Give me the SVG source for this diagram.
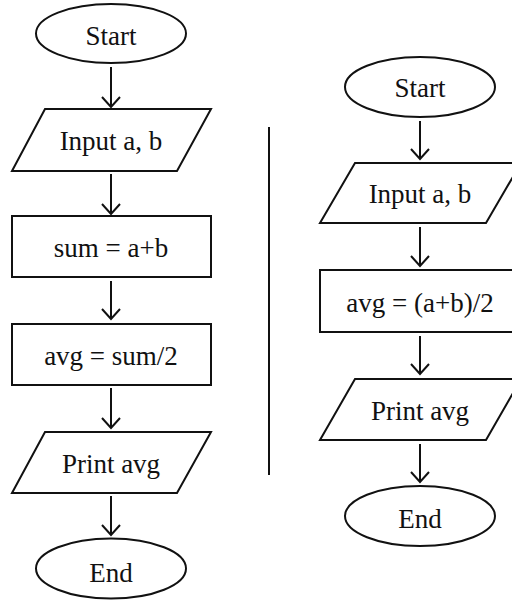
<svg xmlns="http://www.w3.org/2000/svg" width="512" height="603" viewBox="0 0 512 603">
<style>
.s{fill:#fff;stroke:#111;stroke-width:2}
.t{font-family:"Liberation Serif",serif;font-size:27px;fill:#111;text-anchor:middle}
.c{stroke:#111;stroke-width:2;fill:none}
</style>
<defs>
<marker id="a" markerWidth="14" markerHeight="22" refX="11" refY="10" markerUnits="userSpaceOnUse" orient="auto" viewBox="0 0 14 20">
<path d="M1,1 L11,10 L1,19" fill="none" stroke="#111" stroke-width="2"/>
</marker>
</defs>
<rect width="512" height="603" fill="#fff"/>
<g id="L-start"><ellipse class="s" cx="111" cy="33.5" rx="75" ry="29.5"/><text class="t" x="111" y="45">Start</text></g>
<g id="L-input"><polygon class="s" points="45,109 211,109 177,171 12,171"/><text class="t" x="111" y="150">Input a, b</text></g>
<g id="L-sum"><rect class="s" x="12" y="216" width="199" height="61"/><text class="t" x="111" y="257">sum = a+b</text></g>
<g id="L-avg"><rect class="s" x="12" y="324" width="199" height="61"/><text class="t" x="111" y="365">avg = sum/2</text></g>
<g id="L-print"><polygon class="s" points="45,432 211,432 177,493 12,493"/><text class="t" x="111" y="473">Print avg</text></g>
<g id="L-end"><ellipse class="s" cx="111" cy="568.5" rx="75" ry="30"/><text class="t" x="111" y="582">End</text></g>
<g id="R-start"><ellipse class="s" cx="420" cy="87" rx="75" ry="30"/><text class="t" x="420" y="97">Start</text></g>
<g id="R-input"><polygon class="s" points="355,163 521,163 486,223 320,223"/><text class="t" x="420" y="203">Input a, b</text></g>
<g id="R-avg"><rect class="s" x="320" y="270" width="199" height="62"/><text class="t" x="420" y="312">avg = (a+b)/2</text></g>
<g id="R-print"><polygon class="s" points="355,379 521,379 486,440 320,440"/><text class="t" x="420" y="420">Print avg</text></g>
<g id="R-end"><ellipse class="s" cx="420" cy="516" rx="75" ry="30"/><text class="t" x="420" y="528">End</text></g>
<g id="divider"><line class="c" x1="269" y1="127" x2="269" y2="475"/></g>
<g id="connectors">
<line class="c" x1="111" y1="67" x2="111" y2="107" marker-end="url(#a)"/>
<line class="c" x1="111" y1="174" x2="111" y2="214" marker-end="url(#a)"/>
<line class="c" x1="111" y1="281" x2="111" y2="319" marker-end="url(#a)"/>
<line class="c" x1="111" y1="388" x2="111" y2="428" marker-end="url(#a)"/>
<line class="c" x1="111" y1="496" x2="111" y2="535" marker-end="url(#a)"/>
<line class="c" x1="420" y1="121" x2="420" y2="159" marker-end="url(#a)"/>
<line class="c" x1="420" y1="227" x2="420" y2="266" marker-end="url(#a)"/>
<line class="c" x1="420" y1="336" x2="420" y2="374" marker-end="url(#a)"/>
<line class="c" x1="420" y1="444" x2="420" y2="482" marker-end="url(#a)"/>
</g>
</svg>
